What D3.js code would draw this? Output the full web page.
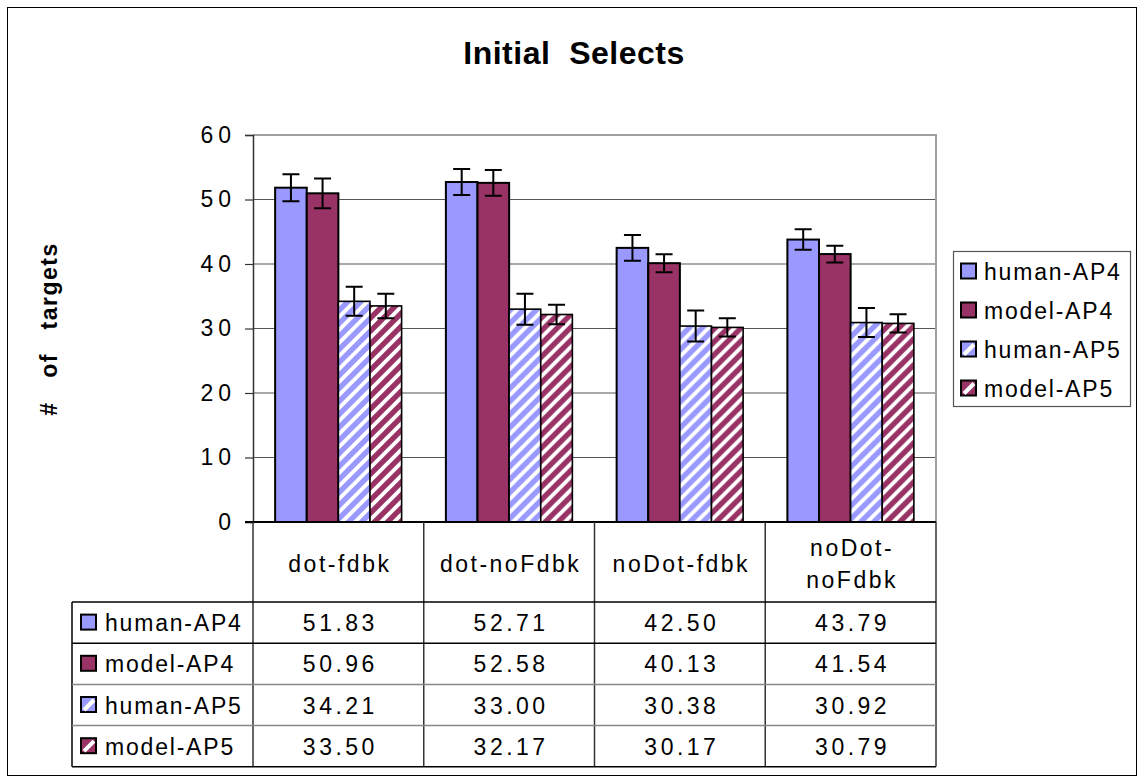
<!DOCTYPE html>
<html>
<head>
<meta charset="utf-8">
<script src="https://cdn.jsdelivr.net/npm/d3@7"></script>
<style>
  body { margin: 0; background: #fff; }
  svg { font-family: "Liberation Sans", Arial, sans-serif; }
</style>
</head>
<body>
<svg id="chart" width="1139" height="780"></svg>
<script>

// chart data
var categories = ['dot-fdbk', 'dot-noFdbk', 'noDot-fdbk', 'noDot-noFdbk'];
var categoryLines = [['dot-fdbk'], ['dot-noFdbk'], ['noDot-fdbk'], ['noDot-', 'noFdbk']];
var seriesNames = ['human-AP4', 'model-AP4', 'human-AP5', 'model-AP5'];

var humanAP4 = [51.83, 52.71, 42.50, 43.79];
var modelAP4 = [50.96, 52.58, 40.13, 41.54];
var humanAP5 = [34.21, 33.00, 30.38, 30.92];
var modelAP5 = [33.50, 32.17, 30.17, 30.79];

// error bar half-widths
var humanAP4Err = [2.1, 2.0, 2.0, 1.6];
var modelAP4Err = [2.3, 2.0, 1.4, 1.3];
var humanAP5Err = [2.25, 2.4, 2.4, 2.25];
var modelAP5Err = [1.9, 1.5, 1.4, 1.4];

var yTicks = [0, 10, 20, 30, 40, 50, 60];

var seriesValues = [humanAP4, modelAP4, humanAP5, modelAP5];
var seriesErrors = [humanAP4Err, modelAP4Err, humanAP5Err, modelAP5Err];
var seriesColors = ['#9999ff', '#993366', '#9999ff', '#993366'];
var seriesStriped = [false, false, true, true];

window.addEventListener('load', drawChart);

function drawChart() {

    var svg = d3.select('#chart');

    // outer frame
    svg.append('rect')
        .attr('x', 7.5).attr('y', 7.5)
        .attr('width', 1129).attr('height', 768)
        .attr('fill', 'none').attr('stroke', '#000').attr('stroke-width', 1);

    // stripe patterns for the AP5 bars
    var defs = svg.append('defs');
    seriesColors.forEach(function (c, i) {
        if (!seriesStriped[i]) return;
        var p = defs.append('pattern')
            .attr('id', 'stripe' + i)
            .attr('patternUnits', 'userSpaceOnUse')
            .attr('width', 13).attr('height', 13);
        p.append('rect').attr('width', 13).attr('height', 13).attr('fill', c);
        p.append('path')
            .attr('d', 'M-3,3 L3,-3 M0,13 L13,0 M10,16 L16,10')
            .attr('stroke', '#fff').attr('stroke-width', 3.8);
    });

    function fillFor(i) {
        return seriesStriped[i] ? 'url(#stripe' + i + ')' : seriesColors[i];
    }

    var left = 253, right = 936, top = 135, bottom = 522;

    var x0 = d3.scaleBand().domain(categories).range([left, right]);
    var x1 = d3.scaleBand().domain(seriesNames)
        .range([0, x0.bandwidth()]).paddingInner(0).paddingOuter(0.7);
    var y = d3.scaleLinear().domain([0, 60]).range([bottom, top]);

    // title
    svg.append('text')
        .attr('x', 574).attr('y', 64)
        .attr('text-anchor', 'middle')
        .attr('font-size', 32).attr('font-weight', 'bold')
        .attr('letter-spacing', 0.5)
        .style('white-space', 'pre')
        .text('Initial  Selects');

    // y title
    svg.append('text')
        .attr('transform', 'translate(57,329) rotate(-90)')
        .attr('text-anchor', 'middle')
        .attr('font-size', 23).attr('font-weight', 'bold')
        .attr('letter-spacing', 1.5)
        .style('white-space', 'pre')
        .text('#   of   targets');

    // gridlines
    svg.append('g').selectAll('line')
        .data(yTicks.filter(function (t) { return t > 0 && t < 60; }))
        .enter().append('line')
        .attr('x1', left).attr('x2', right)
        .attr('y1', function (d) { return y(d); })
        .attr('y2', function (d) { return y(d); })
        .attr('stroke', '#555').attr('stroke-width', 1.2);

    // plot area border (top and right)
    svg.append('path')
        .attr('d', 'M' + left + ',' + top + 'H' + right + 'V' + bottom)
        .attr('fill', 'none').attr('stroke', '#a0a0a0').attr('stroke-width', 2);

    // y axis
    var yAxis = svg.append('g')
        .attr('transform', 'translate(' + left + ',0)')
        .call(d3.axisLeft(y).tickValues(yTicks).tickSize(8).tickPadding(14));
    yAxis.select('.domain').attr('stroke', '#333').attr('stroke-width', 1.5);
    yAxis.selectAll('.tick line').attr('stroke', '#333').attr('stroke-width', 1.2);
    yAxis.selectAll('.tick text')
        .attr('font-size', 23).attr('fill', '#000')
        .attr('font-family', '"Liberation Sans", Arial, sans-serif')
        .attr('letter-spacing', 5)
        .attr('dx', 5);

    // bars
    var groups = svg.append('g').selectAll('g')
        .data(categories).enter().append('g')
        .attr('transform', function (d) { return 'translate(' + x0(d) + ',0)'; });

    groups.each(function (cat, ci) {
        var g = d3.select(this);
        seriesNames.forEach(function (s, si) {
            var v = seriesValues[si][ci];
            g.append('rect')
                .attr('x', x1(s)).attr('y', y(v))
                .attr('width', x1.bandwidth()).attr('height', y(0) - y(v))
                .attr('fill', fillFor(si))
                .attr('stroke', '#000').attr('stroke-width', seriesStriped[si] ? 1.6 : 2);
        });
        seriesNames.forEach(function (s, si) {
            var v = seriesValues[si][ci], e = seriesErrors[si][ci];
            var cx = x1(s) + x1.bandwidth() / 2;
            g.append('path')
                .attr('d', 'M' + cx + ',' + y(v + e) + 'V' + y(v - e) +
                    'M' + (cx - 8.5) + ',' + y(v + e) + 'h17' +
                    'M' + (cx - 8.5) + ',' + y(v - e) + 'h17')
                .attr('fill', 'none').attr('stroke', '#000').attr('stroke-width', 2);
        });
    });

    // x axis line
    svg.append('line')
        .attr('x1', left - 8).attr('x2', right)
        .attr('y1', bottom).attr('y2', bottom)
        .attr('stroke', '#000').attr('stroke-width', 2);

    // data table
    var tableLeft = 72, headerBottom = 602, rowH = 41.2;
    var tableBottom = headerBottom + rowH * 4;
    var table = svg.append('g');

    // vertical lines
    var colEdges = categories.map(function (c) { return x0(c); }).concat([right]);
    table.selectAll('line.v').data(colEdges).enter().append('line')
        .attr('x1', function (d) { return d; }).attr('x2', function (d) { return d; })
        .attr('y1', bottom).attr('y2', tableBottom)
        .attr('stroke', '#333').attr('stroke-width', 1.5);
    table.append('line')
        .attr('x1', tableLeft).attr('x2', tableLeft)
        .attr('y1', headerBottom).attr('y2', tableBottom)
        .attr('stroke', '#000').attr('stroke-width', 1.5);

    // horizontal lines
    var rowLines = [0, 1, 2, 3, 4];
    var rowLineColors = ['#000', '#000', '#888', '#888', '#000'];
    table.selectAll('line.h').data(rowLines).enter().append('line')
        .attr('x1', tableLeft).attr('x2', right)
        .attr('y1', function (d) { return headerBottom + d * rowH; })
        .attr('y2', function (d) { return headerBottom + d * rowH; })
        .attr('stroke', function (d, i) { return rowLineColors[i]; })
        .attr('stroke-width', 1.5);

    // category labels
    categoryLines.forEach(function (lines, ci) {
        var cx = x0(categories[ci]) + x0.bandwidth() / 2;
        var t = table.append('text')
            .attr('text-anchor', 'middle')
            .attr('font-size', 23).attr('letter-spacing', 2.5);
        var startY = lines.length === 1 ? 572 : 556;
        lines.forEach(function (ln, li) {
            t.append('tspan').attr('x', cx + 1.5).attr('y', startY + li * 32).text(ln);
        });
    });

    // rows
    seriesNames.forEach(function (s, si) {
        var cy = headerBottom + si * rowH + rowH / 2;
        drawSwatch(table, 81, cy - 8, si);
        table.append('text')
            .attr('x', 105).attr('y', cy + 8.5)
            .attr('font-size', 23).attr('letter-spacing', 1.8)
            .text(s);
        categories.forEach(function (c, ci) {
            table.append('text')
                .attr('x', x0(c) + x0.bandwidth() / 2 + 2)
                .attr('y', cy + 8.5)
                .attr('text-anchor', 'middle')
                .attr('font-size', 23).attr('letter-spacing', 3.5)
                .text(seriesValues[si][ci].toFixed(2));
        });
    });

    // legend
    var legend = svg.append('g');
    legend.append('rect')
        .attr('x', 953.5).attr('y', 251.5)
        .attr('width', 177).attr('height', 155)
        .attr('fill', '#fff').attr('stroke', '#555').attr('stroke-width', 1.2);
    seriesNames.forEach(function (s, si) {
        var cy = 271.5 + si * 39;
        drawSwatch(legend, 961, cy - 8, si);
        legend.append('text')
            .attr('x', 984).attr('y', cy + 8.5)
            .attr('font-size', 23).attr('letter-spacing', 1.8)
            .text(s);
    });
}

function drawSwatch(parent, x, yy, si) {
    parent.append('rect')
        .attr('x', x).attr('y', yy).attr('width', 15).attr('height', 15)
        .attr('fill', seriesColors[si])
        .attr('stroke', '#000').attr('stroke-width', 2);
    if (seriesStriped[si]) {
        parent.append('path')
            .attr('d', 'M' + (x + 3) + ',' + (yy + 13) + 'L' + (x + 13) + ',' + (yy + 3))
            .attr('stroke', '#fff').attr('stroke-width', 4);
    }
}

</script>
</body>
</html>
